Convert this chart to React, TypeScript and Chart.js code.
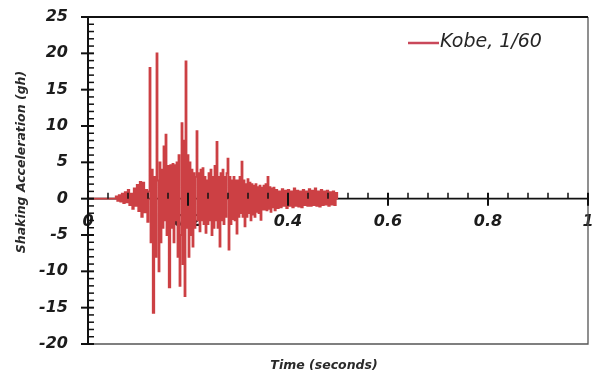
import React, { useEffect, useRef } from 'react';
import { Chart, registerables } from 'chart.js';

Chart.register(...registerables);

// ---- data ----
const timeSec = [
  0, 0.054, 0.057, 0.060, 0.063, 0.066, 0.069, 0.072, 0.075, 0.078,
  0.081, 0.084, 0.087, 0.090, 0.093, 0.096, 0.099, 0.102, 0.105, 0.108,
  0.111, 0.114, 0.117, 0.120, 0.122, 0.124, 0.126, 0.128, 0.131, 0.134,
  0.136, 0.138, 0.140, 0.142, 0.144, 0.146, 0.148, 0.150, 0.152, 0.154,
  0.156, 0.158, 0.160, 0.163, 0.166, 0.168, 0.170, 0.172, 0.174, 0.176,
  0.178, 0.180, 0.182, 0.184, 0.186, 0.188, 0.190, 0.192, 0.194, 0.196,
  0.198, 0.200, 0.202, 0.204, 0.206, 0.208, 0.210, 0.212, 0.214, 0.216,
  0.218, 0.220, 0.222, 0.224, 0.226, 0.228, 0.230, 0.232, 0.234, 0.236,
  0.238, 0.240, 0.242, 0.244, 0.246, 0.248, 0.250, 0.252, 0.254, 0.256,
  0.258, 0.260, 0.262, 0.264, 0.266, 0.268, 0.270, 0.272, 0.274, 0.276,
  0.278, 0.280, 0.282, 0.284, 0.286, 0.288, 0.290, 0.292, 0.294, 0.296,
  0.298, 0.300, 0.302, 0.304, 0.306, 0.308, 0.310, 0.312, 0.314, 0.316,
  0.318, 0.320, 0.322, 0.324, 0.326, 0.328, 0.330, 0.332, 0.334, 0.336,
  0.338, 0.340, 0.342, 0.344, 0.346, 0.348, 0.350, 0.352, 0.354, 0.356,
  0.358, 0.360, 0.362, 0.364, 0.366, 0.368, 0.370, 0.372, 0.374, 0.377,
  0.380, 0.383, 0.386, 0.389, 0.392, 0.395, 0.398, 0.401, 0.404, 0.407,
  0.410, 0.413, 0.416, 0.419, 0.422, 0.425, 0.428, 0.431, 0.434, 0.437,
  0.440, 0.443, 0.446, 0.449, 0.452, 0.455, 0.458, 0.461, 0.464, 0.467,
  0.470, 0.473, 0.476, 0.479, 0.482, 0.485, 0.488, 0.491, 0.494, 0.497,
  0.500,
];

const accelGh = [
  0, 0, 0.3, -0.3, 0.5, -0.4, 0.7, -0.6, 0.9, -0.5,
  1.2, -0.9, 0.7, -1.4, 1.4, -1.0, 1.9, -1.7, 2.3, -2.5,
  2.2, -1.9, 1.2, -3.2, 1.0, 18.0, -6.0, 4.0, -15.7, 3.0,
  -8.0, 20.0, 2.5, -10.0, 5.0, -6.0, 4.0, -4.0, 7.2, -3.0,
  8.8, -5.0, 4.5, -12.2, 4.6, -4.0, 4.8, -6.0, 4.6, -3.0,
  5.0, -8.0, 6.0, -12.0, -5.0, 10.4, -9.0, 8.0, -13.4, 18.9,
  -4.0, 6.0, -8.0, 5.0, -5.0, 4.0, -6.6, 3.5, -4.0, 3.0,
  9.3, -3.0, 3.5, -4.5, 4.0, -3.0, 4.2, -3.5, 3.0, -4.7,
  2.5, -3.5, 3.5, -3.0, 4.0, -5.0, 3.0, -4.0, 4.5, -3.0,
  7.8, -4.0, 3.0, -6.6, 3.5, -3.0, 4.0, -3.5, 3.0, -2.5,
  3.5, 5.5, -7.0, 3.0, -3.5, 2.5, -2.8, 3.0, -3.0, 2.5,
  -4.8, 2.5, -2.5, 3.0, -2.0, 5.1, -2.5, 2.5, -3.8, 2.0,
  -2.5, 2.7, -2.0, 2.2, -3.0, 2.0, -2.2, 1.8, -2.5, 2.0,
  -1.8, 1.6, -2.0, 1.8, -2.9, 1.5, -1.5, 1.8, -1.5, 2.0,
  -1.6, 3.0, -1.4, 1.6, -1.8, 1.4, -1.2, 1.5, -1.6, 1.2,
  -1.3, 1.0, -1.2, 1.3, -1.0, 1.1, -1.3, 1.2, -1.0, 1.0,
  -1.2, 1.4, -1.0, 1.1, -1.1, 1.0, -1.2, 1.2, -0.9, 1.0,
  -1.0, 1.3, -1.0, 1.1, -0.9, 1.4, -1.0, 1.0, -1.1, 1.2,
  -0.9, 1.0, -0.8, 1.1, -1.0, 0.9, -0.8, 1.0, -0.9, 0.8,
  0,
];

const seriesLabel = 'Kobe, 1/60';
const xTitle = 'Time (seconds)';
const yTitle = 'Shaking Acceleration (gh)';
const xRange = [0, 1];
const yRange = [-20, 25];
const xMajorStep = 0.2;
const xMinorStep = 0.04;
const yMajorStep = 5;
const yMinorStep = 1;

const RED = '#cc4044';
const LEGEND_RED = '#c9485a';
const TICK_FONT = { family: '"DejaVu Sans", sans-serif', size: 16, weight: 'bold' as const, style: 'italic' as const };

const excelAxes = {
  id: 'excelAxes',
  beforeDatasetsDraw(chart: any) {
    const { ctx, chartArea: a, scales } = chart;
    const y0 = scales.y.getPixelForValue(0);
    ctx.save();
    ctx.strokeStyle = '#111';
    ctx.lineWidth = 1.6;
    ctx.beginPath();
    ctx.moveTo(a.left, y0);
    ctx.lineTo(a.right, y0);
    ctx.stroke();
    ctx.restore();
  },
  afterDatasetsDraw(chart: any) {
    const { ctx, chartArea: a, scales } = chart;
    const xs = scales.x;
    const ys = scales.y;
    const y0 = ys.getPixelForValue(0);
    ctx.save();
    // frame
    ctx.strokeStyle = '#555';
    ctx.lineWidth = 1.3;
    ctx.beginPath();
    ctx.moveTo(a.right, a.top);
    ctx.lineTo(a.right, a.bottom);
    ctx.lineTo(a.left, a.bottom);
    ctx.stroke();
    ctx.strokeStyle = '#111';
    ctx.lineWidth = 2.2;
    ctx.beginPath();
    ctx.moveTo(a.left, a.top);
    ctx.lineTo(a.right, a.top);
    ctx.stroke();
    // y axis line
    ctx.lineWidth = 2;
    ctx.beginPath();
    ctx.moveTo(a.left, a.top);
    ctx.lineTo(a.left, a.bottom);
    ctx.stroke();
    // y ticks
    const nY = Math.round((yRange[1] - yRange[0]) / yMinorStep);
    for (let i = 0; i <= nY; i++) {
      const v = yRange[0] + i * yMinorStep;
      const py = ys.getPixelForValue(v);
      const major = Math.abs(v / yMajorStep - Math.round(v / yMajorStep)) < 1e-6;
      ctx.lineWidth = major ? 2 : 1.5;
      ctx.beginPath();
      ctx.moveTo(major ? a.left - 7 : a.left, py);
      ctx.lineTo(a.left + 6, py);
      ctx.stroke();
    }
    // x ticks
    const nX = Math.round((xRange[1] - xRange[0]) / xMinorStep);
    for (let i = 1; i <= nX; i++) {
      const v = xRange[0] + i * xMinorStep;
      const px = xs.getPixelForValue(v);
      const major = Math.abs(v / xMajorStep - Math.round(v / xMajorStep)) < 1e-6;
      ctx.lineWidth = major ? 2 : 1.5;
      ctx.beginPath();
      ctx.moveTo(px, y0 - 6);
      ctx.lineTo(px, major ? y0 + 7 : y0);
      ctx.stroke();
    }
    ctx.restore();
  },
  afterDraw(chart: any) {
    const { ctx } = chart;
    ctx.save();
    ctx.fillStyle = '#2a2a2a';
    ctx.font = 'italic bold 12.5px "DejaVu Sans", sans-serif';
    ctx.textAlign = 'center';
    ctx.textBaseline = 'middle';
    ctx.fillText(xTitle, 324, 366);
    ctx.save();
    ctx.translate(22, 162);
    ctx.rotate(-Math.PI / 2);
    ctx.fillText(yTitle, 0, 0);
    ctx.restore();
    // legend
    ctx.strokeStyle = LEGEND_RED;
    ctx.lineWidth = 2.5;
    ctx.beginPath();
    ctx.moveTo(408, 43);
    ctx.lineTo(439, 43);
    ctx.stroke();
    ctx.fillStyle = '#262626';
    ctx.font = 'italic 19px "DejaVu Sans", sans-serif';
    ctx.textAlign = 'left';
    ctx.fillText(seriesLabel, 440, 42);
    ctx.restore();
  },
};

export default function App() {
  const ref = useRef<HTMLCanvasElement | null>(null);
  useEffect(() => {
    document.body.style.margin = '0';
    const points = timeSec.map((t, i) => ({ x: t, y: accelGh[i] }));
    const chart = new Chart(ref.current as HTMLCanvasElement, {
      type: 'line',
      data: {
        datasets: [
          {
            label: seriesLabel,
            data: points,
            borderColor: RED,
            backgroundColor: RED,
            borderWidth: 1.8,
            pointRadius: 0,
            stepped: 'middle',
            fill: false,
          },
        ],
      },
      options: {
        responsive: false,
        animation: false,
        layout: { padding: { top: 17, right: 4, bottom: 32, left: 0 } },
        plugins: { legend: { display: false }, tooltip: { enabled: false } },
        scales: {
          x: {
            type: 'linear',
            min: xRange[0],
            max: xRange[1],
            position: { y: 0 } as any,
            grid: { display: false, drawTicks: false },
            border: { display: false },
            ticks: {
              stepSize: xMajorStep,
              padding: 14,
              color: '#1c1c1c',
              font: TICK_FONT,
              maxRotation: 0,
              autoSkip: false,
              callback: (v: any) => String(Math.round(Number(v) * 10) / 10),
            },
            afterFit: (s: any) => {
              s.paddingLeft = 0;
              s.paddingRight = 0;
            },
          },
          y: {
            type: 'linear',
            min: yRange[0],
            max: yRange[1],
            grid: { display: false, drawTicks: false },
            border: { display: false },
            ticks: {
              stepSize: yMajorStep,
              padding: 20,
              color: '#1c1c1c',
              font: TICK_FONT,
            },
            afterFit: (s: any) => {
              s.width = 88;
              s.paddingTop = 0;
              s.paddingBottom = 0;
            },
          },
        },
      },
      plugins: [excelAxes],
    });
    return () => chart.destroy();
  }, []);
  return (
    <div style={{ width: 592, height: 376 }}>
      <canvas ref={ref} width={592} height={376} style={{ display: 'block' }} />
    </div>
  );
}
